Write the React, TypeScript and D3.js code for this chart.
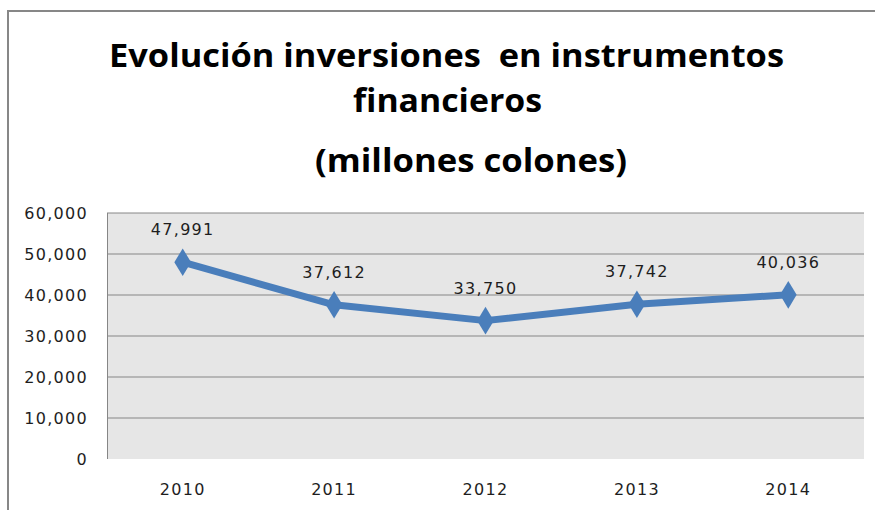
import React from "react";
import * as d3 from "d3";

const years = ["2010", "2011", "2012", "2013", "2014"];
const values = [47991, 37612, 33750, 37742, 40036];
const yTicks = [0, 10000, 20000, 30000, 40000, 50000, 60000];
const titleLines = ["Evolución inversiones  en instrumentos", "financieros", "(millones colones)"];

const W = 875;
const H = 510;
const plot = { left: 107, right: 864, top: 213, bottom: 459 };

export default function App() {
  const x = d3.scaleBand<string>().domain(years).range([plot.left, plot.right]);
  const y = d3.scaleLinear().domain([0, 60000]).range([plot.bottom, plot.top]);
  const cx = (yr: string) => (x(yr) ?? 0) + x.bandwidth() / 2;
  const fmt = d3.format(",");
  const pts = years.map((yr, i) => [cx(yr), y(values[i])] as [number, number]);
  const line = d3.line<[number, number]>()(pts) ?? "";
  const diamond = d3.symbol().type(d3.symbolDiamond).size(200)() ?? "";

  const titleLayout = [
    { x: 109, base: 67, len: 675 },
    { x: 353, base: 112, len: 189 },
    { x: 315, base: 172, len: 312 },
  ];

  const numStyle = { fontFamily: "DejaVu Sans", fontSize: 16, letterSpacing: 1.3, fill: "#1e1e1e" } as const;

  return (
    <svg width={W} height={H} style={{ position: "absolute", left: 0, top: 0, background: "#fff" }}>
      <line x1={7} x2={W} y1={11} y2={11} stroke="#878787" strokeWidth={2} />
      <line x1={8} x2={8} y1={10} y2={H} stroke="#878787" strokeWidth={2} />
      {titleLines.map((t, i) => (
        <text
          key={i}
          x={titleLayout[i].x}
          y={titleLayout[i].base}
          textLength={titleLayout[i].len}
          lengthAdjust="spacingAndGlyphs"
          style={{ fontFamily: "Open Sans", fontWeight: 700, fontSize: 33, fill: "#000", whiteSpace: "pre" }}
        >
          {t}
        </text>
      ))}
      <rect x={plot.left} y={plot.top} width={plot.right - plot.left} height={plot.bottom - plot.top} fill="#e6e6e6" />
      {yTicks.filter((v) => v > 0).map((v) => (
        <line key={v} x1={plot.left} x2={plot.right} y1={y(v)} y2={y(v)} stroke="#868686" strokeWidth={1} />
      ))}
      <line x1={plot.left + 0.5} x2={plot.left + 0.5} y1={plot.top} y2={plot.bottom} stroke="#868686" strokeWidth={1} />
      {yTicks.map((v) => (
        <text key={v} x={88} y={y(v) + 6} textAnchor="end" style={numStyle}>
          {fmt(v)}
        </text>
      ))}
      {years.map((yr) => (
        <text key={yr} x={cx(yr)} y={495} textAnchor="middle" style={numStyle}>
          {yr}
        </text>
      ))}
      <path d={line} fill="none" stroke="#4a7ebb" strokeWidth={7} strokeLinejoin="round" />
      {pts.map((p, i) => (
        <path key={i} d={diamond} transform={`translate(${p[0]},${p[1]}) scale(1.1,1.05)`} fill="#4a7ebb" />
      ))}
      {pts.map((p, i) => (
        <text key={i} x={p[0]} y={p[1] - 27} textAnchor="middle" style={numStyle}>
          {fmt(values[i])}
        </text>
      ))}
    </svg>
  );
}
